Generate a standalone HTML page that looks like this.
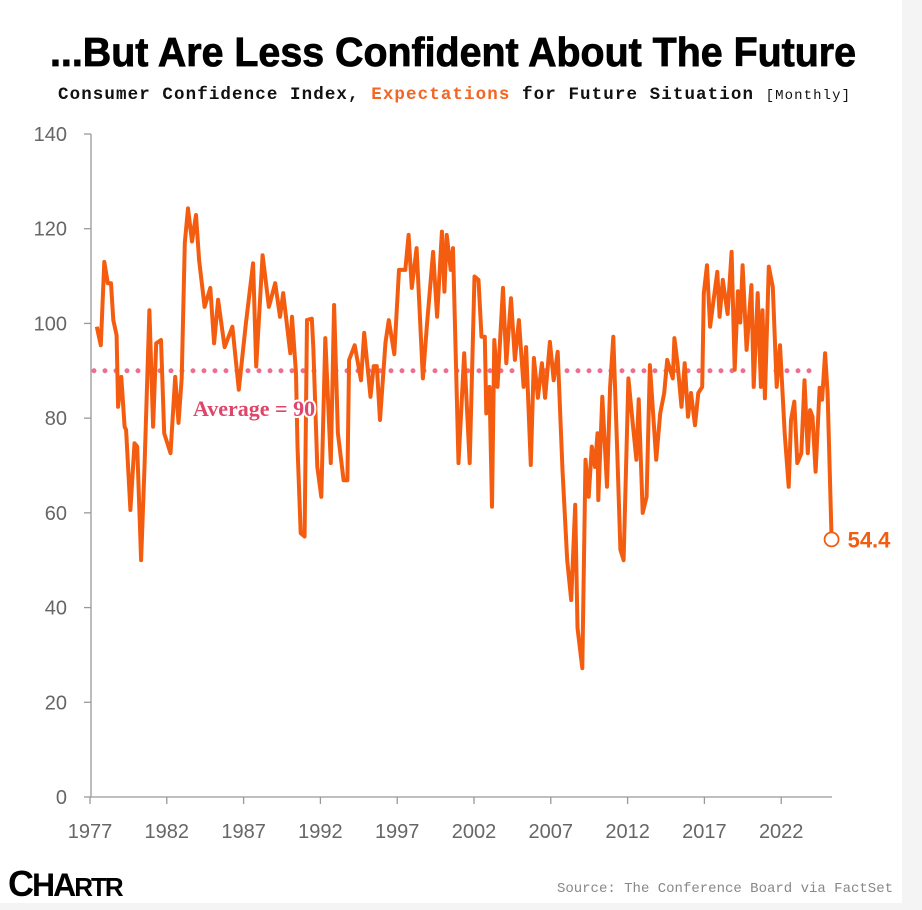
<!DOCTYPE html>
<html><head><meta charset="utf-8"><style>
html,body{margin:0;padding:0;background:#f4f4f4;}
#card{position:absolute;left:0;top:0;width:902px;height:903px;background:#fff;}
svg{position:absolute;left:0;top:0;}
</style></head><body>
<div id="card"></div>
<svg id="chart" width="922" height="910">
<text x="453" y="66" text-anchor="middle" font-family="'Liberation Sans Narrow','Liberation Sans',sans-serif" font-weight="bold" font-size="41" fill="#000" stroke="#000" stroke-width="0.8" textLength="806" lengthAdjust="spacingAndGlyphs">...But Are Less Confident About The Future</text>
<text x="58" y="99" font-family="'Liberation Mono',monospace" font-weight="bold" font-size="17.5" fill="#111" textLength="792" lengthAdjust="spacing">Consumer Confidence Index, <tspan fill="#f26522">Expectations</tspan> for Future Situation <tspan font-weight="normal" font-size="14">[Monthly]</tspan></text>
<g id="axes"></g>
<g id="plot"></g>
<text x="893" y="892" text-anchor="end" font-family="'Liberation Mono',monospace" font-size="14" fill="#888">Source: The Conference Board via FactSet</text>
<text x="8" y="896" font-family="'Liberation Sans Narrow','Liberation Sans',sans-serif" font-weight="bold" font-size="36" fill="#000" letter-spacing="-2">C<tspan font-size="32">HA</tspan><tspan font-size="26">RTR</tspan></text>
</svg>
<script>
const years=[1977.44,1977.70,1977.93,1978.16,1978.37,1978.52,1978.73,1978.83,1979.04,1979.25,1979.35,1979.63,1979.90,1980.07,1980.33,1980.55,1980.87,1981.11,1981.31,1981.62,1981.83,1982.24,1982.55,1982.76,1982.97,1983.17,1983.38,1983.64,1983.90,1984.10,1984.46,1984.83,1985.08,1985.34,1985.76,1986.27,1986.69,1987.15,1987.62,1987.82,1988.24,1988.65,1989.06,1989.37,1989.58,1990.04,1990.15,1990.41,1990.51,1990.72,1990.97,1991.13,1991.44,1991.54,1991.80,1992.06,1992.32,1992.68,1992.89,1993.14,1993.51,1993.76,1993.87,1994.23,1994.64,1994.85,1995.26,1995.47,1995.67,1995.88,1996.24,1996.45,1996.81,1997.12,1997.53,1997.74,1997.95,1998.26,1998.67,1998.93,1999.34,1999.60,1999.91,2000.07,2000.22,2000.48,2000.63,2000.99,2001.36,2001.72,2002.03,2002.29,2002.49,2002.70,2002.80,2003.01,2003.17,2003.32,2003.53,2003.89,2004.10,2004.41,2004.66,2004.92,2005.23,2005.39,2005.70,2005.90,2006.16,2006.42,2006.63,2006.94,2007.19,2007.45,2007.76,2008.07,2008.33,2008.59,2008.74,2009.05,2009.26,2009.47,2009.67,2009.88,2010.04,2010.09,2010.35,2010.66,2010.86,2011.07,2011.33,2011.53,2011.74,2012.05,2012.31,2012.57,2012.72,2012.98,2013.24,2013.45,2013.86,2014.12,2014.38,2014.58,2014.94,2015.05,2015.25,2015.51,2015.72,2015.93,2016.13,2016.39,2016.60,2016.86,2016.96,2017.17,2017.37,2017.58,2017.84,2017.99,2018.20,2018.51,2018.77,2018.97,2019.18,2019.34,2019.49,2019.75,2020.06,2020.21,2020.47,2020.68,2020.78,2020.94,2021.19,2021.45,2021.71,2021.92,2022.23,2022.49,2022.64,2022.85,2023.05,2023.31,2023.52,2023.73,2023.88,2024.04,2024.24,2024.50,2024.66,2024.86,2025.02,2025.28];
const values=[99.3,95.4,113,108.5,108.5,100.7,97.5,82.4,88.7,78.2,77.5,60.6,74.7,74,50,69.7,102.8,78.2,95.8,96.5,76.8,72.6,88.7,79,88.4,117,124.3,117.3,122.9,113.4,103.5,107.5,95.8,105,95,99.3,86,100,112.7,90.9,114.4,103.5,108.5,101.4,106.4,93.7,101.4,89.5,74,55.7,55,100.7,101,95,69.7,63.4,96.9,70.5,103.9,76.8,66.9,66.9,92.3,95.4,88,98,84.5,91,91,79.6,96,100.7,93.5,111.3,111.3,118.7,107.5,115.9,88.4,99.3,115.1,101.4,119.4,106.7,118.7,111.3,115.9,70.5,93.7,70.5,109.9,109.2,97.2,97.2,81,86.6,61.3,96.5,86.6,107.5,91.6,105.3,92.3,100.7,86.6,95,70.1,92.7,84.3,91.6,84.3,96.1,88,94,69,50,41.6,61.7,35.7,27.2,71.2,63.4,74,69.7,76.8,62.7,84.5,65.5,86.6,97.2,72.6,52.2,50,88.4,79.6,71.2,84,60,63.4,91.2,71.2,81,85.3,92.3,88.4,96.9,91.6,82.4,91.6,80.3,85.3,78.5,85.3,86.6,106.4,112.3,99.3,104.5,110.9,101.4,109.2,102,115.1,90.2,106.8,100.2,112.3,94.4,108.1,86.6,106.4,86.6,102.8,84.2,112,107.7,86.6,95.4,76.8,65.5,79.6,83.5,70.5,72.6,88,72.6,81.7,80.3,68.7,86.4,83.9,93.7,85.3,54.4];
const yTicks=[0,20,40,60,80,100,120,140];
const xTicks=[1977,1982,1987,1992,1997,2002,2007,2012,2017,2022];
const average=[90];
const lastLabel=["54.4"];

const NS="http://www.w3.org/2000/svg";
const X=y=>90+(y-1977)*15.36;
const Y=v=>797-v*(663/140);
function mk(tag,attrs,parent){const e=document.createElementNS(NS,tag);for(const k in attrs)e.setAttribute(k,attrs[k]);parent.appendChild(e);return e;}
const axes=document.getElementById('axes'),plot=document.getElementById('plot');
let a=mk('line',{x1:91,y1:Y(140),x2:91,y2:797,stroke:'#999','stroke-width':1.3},axes);


a=mk('line',{x1:91,y1:797,x2:832,y2:797,stroke:'#999','stroke-width':1.3},axes);


yTicks.forEach(t=>{
 const l=mk('line',{x1:84,y1:Y(t),x2:91,y2:Y(t),stroke:'#999','stroke-width':1.3},axes);
 
 
 const tx=mk('text',{x:67,y:Y(t)+7,'text-anchor':'end','font-family':"'Liberation Sans',sans-serif",'font-size':20,fill:'#666'},axes);
 tx.textContent=t;
 
 
});
xTicks.forEach(t=>{
 const l=mk('line',{x1:X(t),y1:797,x2:X(t),y2:804,stroke:'#999','stroke-width':1.3},axes);
 
 
 const tx=mk('text',{x:X(t),y:838,'text-anchor':'middle','font-family':"'Liberation Sans',sans-serif",'font-size':20,fill:'#666'},axes);
 tx.textContent=t;
 
 
});
const avg=mk('line',{x1:94,y1:Y(average[0]),x2:816,y2:Y(average[0]),stroke:'#ec6f92','stroke-width':5,'stroke-linecap':'round','stroke-dasharray':'0 11'},plot);


const d=years.map((y,i)=>(i?'L':'M')+X(y).toFixed(1)+','+Y(values[i]).toFixed(1)).join('');
const p=mk('path',{d:d,fill:'none',stroke:'#f45d0f','stroke-width':4,'stroke-linejoin':'round'},plot);


const al=mk('text',{x:193,y:Y(average[0])+45,'font-family':"'Liberation Serif',serif",'font-weight':'bold','font-size':22,fill:'#e0456b',stroke:'#fff','stroke-width':4,'paint-order':'stroke'},plot);
al.textContent='Average = '+average[0];


const n=years.length-1;
const c=mk('circle',{cx:X(years[n]),cy:Y(values[n]),r:7,fill:'#fff',stroke:'#f45d0f','stroke-width':1.8},plot);


const lt=mk('text',{x:X(years[n])+16,y:Y(values[n])+8,'font-family':"'Liberation Sans',sans-serif",'font-weight':'bold','font-size':22,fill:'#f45d0f'},plot);
lt.textContent=lastLabel[0];


</script>
</body></html>
